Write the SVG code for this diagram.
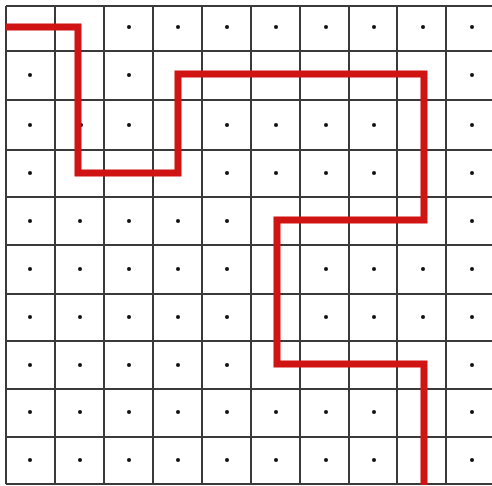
<svg xmlns="http://www.w3.org/2000/svg" width="492" height="486" viewBox="0 0 492 486">
<style>
.g{stroke:#3a3a3a;stroke-width:2;fill:none}
.d{fill:#111}
.p{stroke:#d01414;stroke-width:7;fill:none;stroke-linejoin:miter;stroke-linecap:butt}
</style>
<defs>
<circle id="dt" r="2" class="d"/>
</defs>
<rect width="492" height="486" fill="#fff"/>
<g id="grid" class="g">
<path d="M6,6H492M6,51H492M6,100H492M6,150H492M6,197H492M6,245H492M6,294H492M6,341H492M6,389H492M6,437H492M6,484H492"/>
<path d="M6,6V484M55,6V484M104,6V484M153,6V484M202,6V484M251,6V484M300,6V484M349,6V484M397,6V484M446,6V484"/>
</g>
<g id="dots">
<use href="#dt" x="129" y="27"/><use href="#dt" x="178" y="27"/><use href="#dt" x="227" y="27"/><use href="#dt" x="276" y="27"/><use href="#dt" x="326" y="27"/><use href="#dt" x="374" y="27"/><use href="#dt" x="423" y="27"/><use href="#dt" x="472" y="27"/>
<use href="#dt" x="30" y="75"/><use href="#dt" x="129" y="75"/><use href="#dt" x="472" y="75"/>
<use href="#dt" x="30" y="125"/><use href="#dt" x="81" y="125"/><use href="#dt" x="129" y="125"/><use href="#dt" x="227" y="125"/><use href="#dt" x="276" y="125"/><use href="#dt" x="326" y="125"/><use href="#dt" x="374" y="125"/><use href="#dt" x="472" y="125"/>
<use href="#dt" x="30" y="173"/><use href="#dt" x="227" y="173"/><use href="#dt" x="276" y="173"/><use href="#dt" x="326" y="173"/><use href="#dt" x="374" y="173"/><use href="#dt" x="472" y="173"/>
<use href="#dt" x="30" y="221"/><use href="#dt" x="80" y="221"/><use href="#dt" x="129" y="221"/><use href="#dt" x="178" y="221"/><use href="#dt" x="227" y="221"/><use href="#dt" x="472" y="221"/>
<use href="#dt" x="30" y="269"/><use href="#dt" x="80" y="269"/><use href="#dt" x="129" y="269"/><use href="#dt" x="178" y="269"/><use href="#dt" x="227" y="269"/><use href="#dt" x="326" y="269"/><use href="#dt" x="374" y="269"/><use href="#dt" x="423" y="269"/><use href="#dt" x="472" y="269"/>
<use href="#dt" x="30" y="317"/><use href="#dt" x="80" y="317"/><use href="#dt" x="129" y="317"/><use href="#dt" x="178" y="317"/><use href="#dt" x="227" y="317"/><use href="#dt" x="326" y="317"/><use href="#dt" x="374" y="317"/><use href="#dt" x="423" y="317"/><use href="#dt" x="472" y="317"/>
<use href="#dt" x="30" y="365"/><use href="#dt" x="80" y="365"/><use href="#dt" x="129" y="365"/><use href="#dt" x="178" y="365"/><use href="#dt" x="227" y="365"/><use href="#dt" x="472" y="365"/>
<use href="#dt" x="30" y="412"/><use href="#dt" x="80" y="412"/><use href="#dt" x="129" y="412"/><use href="#dt" x="178" y="412"/><use href="#dt" x="227" y="412"/><use href="#dt" x="276" y="412"/><use href="#dt" x="326" y="412"/><use href="#dt" x="374" y="412"/><use href="#dt" x="472" y="412"/>
<use href="#dt" x="30" y="460"/><use href="#dt" x="80" y="460"/><use href="#dt" x="129" y="460"/><use href="#dt" x="178" y="460"/><use href="#dt" x="227" y="460"/><use href="#dt" x="276" y="460"/><use href="#dt" x="326" y="460"/><use href="#dt" x="374" y="460"/><use href="#dt" x="472" y="460"/>
</g>
<g id="connectors">
<path class="p" d="M6,27H78V173H178V74H424V220H277V364H424V485"/>
</g>
</svg>
